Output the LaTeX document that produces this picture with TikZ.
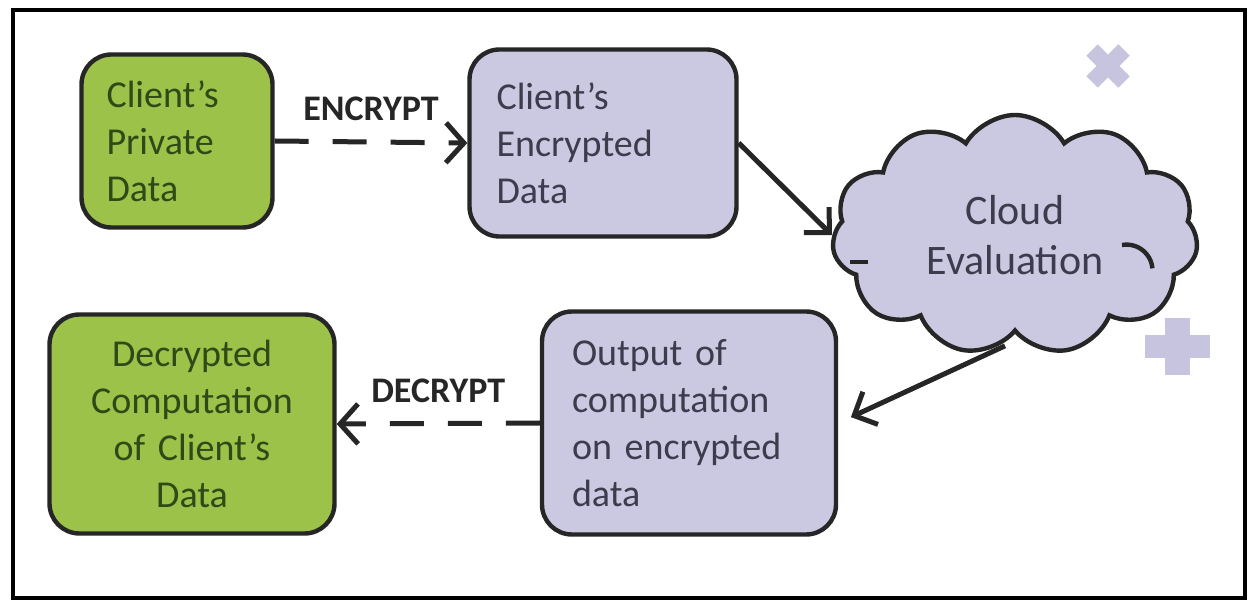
\documentclass[tikz,border=0pt]{standalone}
\usepackage{fontspec}
\setmainfont{Carlito}
\usepackage{tikz}
\usetikzlibrary{arrows.meta,shapes.symbols,positioning}
\definecolor{olive}{HTML}{9CC24A}
\definecolor{lav}{HTML}{CBC8E2}
\definecolor{lavmark}{HTML}{C6C4DE}
\definecolor{gtext}{HTML}{2F4A17}
\definecolor{ltext}{HTML}{3C3C4C}
\tikzstyle{g} = [rectangle, rounded corners=15pt, fill=olive, draw=black!85, line width=2.2pt, text=gtext, font=\fontsize{19}{23.5}\selectfont]
\tikzstyle{l} = [rectangle, rounded corners=15pt, fill=lav, draw=black!85, line width=2.2pt, text=ltext, font=\fontsize{19}{23.5}\selectfont]
\tikzstyle{c} = [cloud, cloud puffs=11, cloud puff arc=120, cloud ignores aspect, fill=lav, draw=black!85, line width=2.2pt, text=ltext, align=center, font=\fontsize{21}{25}\selectfont]
\tikzstyle{lbl} = [text=black!85, font=\bfseries\fontsize{18}{20}\selectfont]
\tikzstyle{da} = [black!85, line width=2.5pt, dash pattern=on 17pt off 12pt, -{Straight Barb[length=9pt,width=20pt,line width=2.5pt]}]
\tikzstyle{sa} = [black!85, line width=2.5pt, -{Straight Barb[length=9pt,width=18pt,line width=2.5pt]}]
\tikzstyle{m} = [lavmark, line width=8pt]

\begin{document}
\begin{tikzpicture}[x=0.5pt, y=-0.5pt]
		\useasboundingbox (0,0) rectangle (1251,603);
		\draw[line width=2pt] (13,10) rectangle (1245,598);

		% boxes
		\node[g, minimum width=95.5pt, minimum height=86.5pt, text width=70.5pt, align=left, inner xsep=12.5pt] (priv) at (177,141) {Client's\\Private\\Data};
		\node[l, minimum width=133.5pt, minimum height=93.5pt, text width=106.5pt, align=left, inner xsep=13.5pt] (enc) at (603,143) {Client's\\Encrypted\\Data};
		\node[c, minimum width=183pt, minimum height=120pt] (cloud) at (1015,235) {Cloud\\Evaluation};
		\node[l, minimum width=147pt, minimum height=111.5pt, text width=117pt, align=left, inner xsep=15pt] (out) at (689,423) {Output of\\computation\\on encrypted\\data};
		\node[g, minimum width=142.5pt, minimum height=109.5pt, text width=122.5pt, align=center, inner xsep=10pt] (dec) at (192,424) {Decrypted\\Computation\\of Client's\\Data};

		% inner strokes of the cloud
		\draw[black!85, line width=2.2pt] (1122,245) arc (-100:-5:26);
		\draw[black!85, line width=2.2pt] (850,262) -- (868,262);

		% arrows
		\draw[da] (priv.east) -- node[lbl, above=6pt] {ENCRYPT} (enc.west);
		\draw[sa] (enc.east) -- (cloud.west);
		\draw[sa, shorten >=7pt] ([xshift=-5pt, yshift=-6pt]cloud.south) -- (out.east);
		\draw[da] (out.west) -- node[lbl, above=6pt] {DECRYPT} (dec.east);

		% marks
		\draw[m] (1092,50) -- (1124,82);
		\draw[m] (1124,50) -- (1092,82);
		\fill[lavmark] (1145,335) rectangle (1210,358);
		\fill[lavmark] (1165,318) rectangle (1190,375);
	\end{tikzpicture}
\end{document}
